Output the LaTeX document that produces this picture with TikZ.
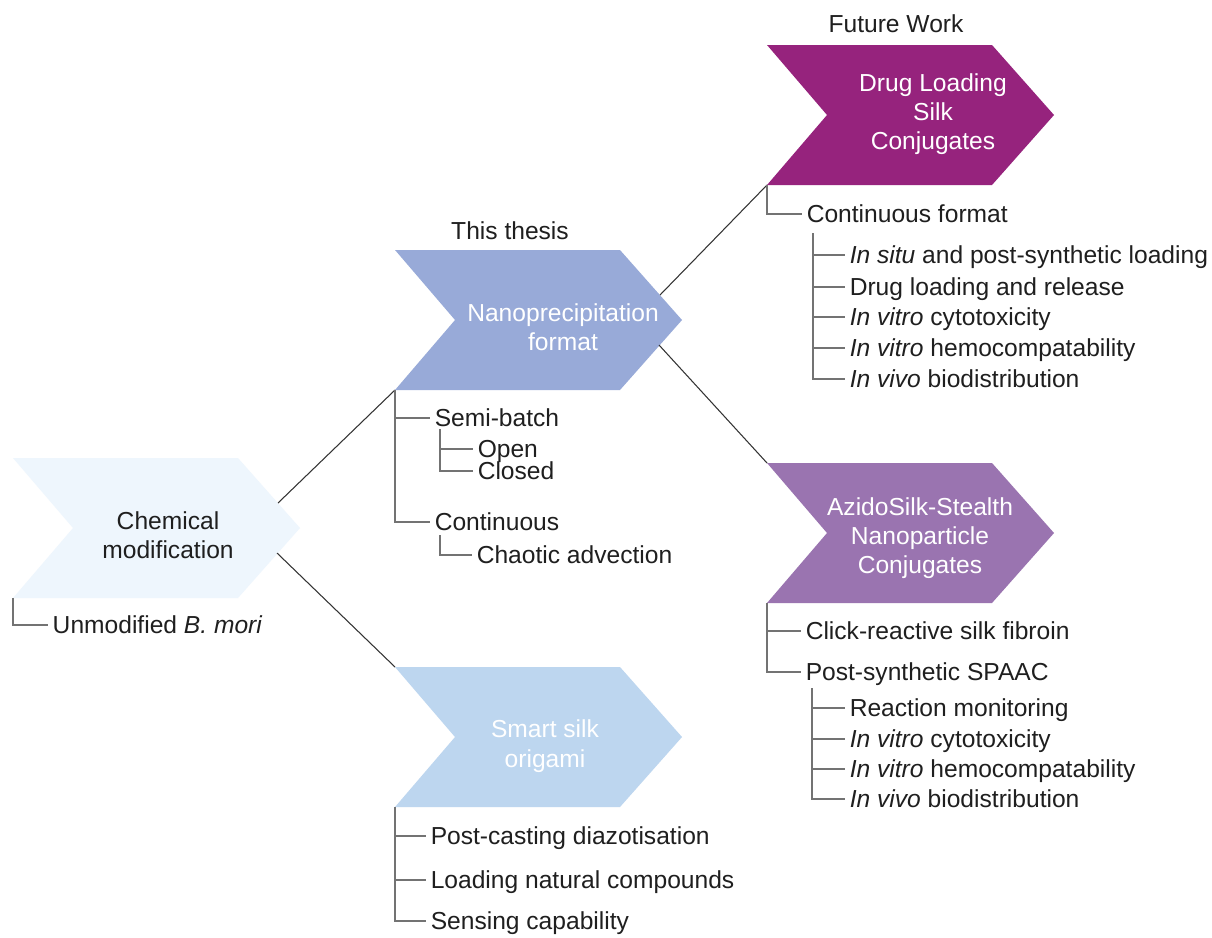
\documentclass[tikz,border=0pt]{standalone}
\usepackage{fontspec}
\setmainfont{Liberation Sans}
\definecolor{chemfill}{HTML}{EEF6FD}
\definecolor{nanofill}{HTML}{98AAD8}
\definecolor{smartfill}{HTML}{BDD6EF}
\definecolor{drugfill}{HTML}{96237D}
\definecolor{azidofill}{HTML}{9A74B0}

\begin{document}
\begin{tikzpicture}[
    x=0.02cm, y=-0.02cm,
    every node/.style={font=\fontsize{14}{16.7}\selectfont, text=black!88},
    item/.style={anchor=west, inner sep=2.5pt, text height=12.5pt, text depth=2.5pt},
    title/.style={align=center, text=white},
    tree/.style={draw=black!55, line width=0.7pt},
    link/.style={draw=black!80, line width=0.6pt},
    chevron/.pic={
      \fill[pic actions] (0,0) -- (225,0) -- (287,70) -- (225,140)
                         -- (0,140) -- (60,70) -- cycle;
      \coordinate (-tl) at (0,0);
      \coordinate (-bl) at (0,140);
      \coordinate (-ur) at (265,45);
      \coordinate (-lr) at (264,95);
    },
  ]

  \fill[white] (0,0) rectangle (1212,937);
  \useasboundingbox (0,0) rectangle (1212,937);

  \pic[fill=chemfill]  (chem)  at (13,458)  {chevron};
  \pic[fill=nanofill]  (nano)  at (395,250) {chevron};
  \pic[fill=smartfill] (smart) at (395,667) {chevron};
  \pic[fill=drugfill]  (drug)  at (767,45)  {chevron};
  \pic[fill=azidofill] (azido) at (767,463) {chevron};

  \draw[link] (chem-ur) -- (nano-bl);
  \draw[link] (chem-lr) -- (smart-tl);
  \draw[link] (nano-ur) -- (drug-bl);
  \draw[link] (nano-lr) -- (azido-tl);

  % headings
  \node (future) at (896,24)  {Future Work};
  \node (thesis) at (510,231) {This thesis};

  % chevron labels
  \node[align=center] (chemlbl) at (168,535) {Chemical\\modification};
  \node[title] (nanolbl)  at (563,327) {Nanoprecipitation\\format};
  \node[title] (smartlbl) at (545,746) {Smart silk\\origami};
  \node[title] (druglbl)  at (933,114) {Drug Loading\\Silk\\Conjugates};
  \node[title] (azidolbl) at (920,538) {AzidoSilk-Stealth\\Nanoparticle\\Conjugates};

  % chemical modification
  \node[item] (unmod) at (48,625) {Unmodified \textit{B.~mori}};
  \draw[tree] (chem-bl) |- (unmod.west);

  % nanoprecipitation
  \node[item] (semi)    at (430,418) {Semi-batch};
  \node[item] (open)    at (473,449) {Open};
  \node[item] (closed)  at (473,471) {Closed};
  \node[item] (cont)    at (430,522) {Continuous};
  \node[item] (chaotic) at (472,555) {Chaotic advection};
  \draw[tree] (nano-bl) |- (semi.west);
  \draw[tree] (nano-bl) |- (cont.west);
  \draw[tree] ([xshift=.2cm, yshift=-.22cm]semi.west) |- (open.west);
  \draw[tree] ([xshift=.2cm, yshift=-.22cm]semi.west) |- (closed.west);
  \draw[tree] ([xshift=.2cm, yshift=-.26cm]cont.west) |- (chaotic.west);

  % smart silk origami
  \node[item] (casting) at (426,836) {Post-casting diazotisation};
  \node[item] (natural) at (426,880) {Loading natural compounds};
  \node[item] (sensing) at (426,921) {Sensing capability};
  \draw[tree] (smart-bl) |- (casting.west);
  \draw[tree] (smart-bl) |- (natural.west);
  \draw[tree] (smart-bl) |- (sensing.west);

  % drug loading
  \node[item] (contf)   at (802,214) {Continuous format};
  \node[item] (insitu)  at (845,255) {\textit{In situ} and post-synthetic loading};
  \node[item] (release) at (845,287) {Drug loading and release};
  \node[item] (dcyto)   at (845,317) {\textit{In vitro} cytotoxicity};
  \node[item] (dhemo)   at (845,348) {\textit{In vitro} hemocompatability};
  \node[item] (dvivo)   at (845,379) {\textit{In vivo} biodistribution};
  \draw[tree] (drug-bl) |- (contf.west);
  \foreach \n in {insitu, release, dcyto, dhemo, dvivo}
    \draw[tree] ([xshift=.22cm, yshift=-.38cm]contf.west) |- (\n.west);

  % azidosilk
  \node[item] (click)   at (801,631) {Click-reactive silk fibroin};
  \node[item] (spaac)   at (801,672) {Post-synthetic SPAAC};
  \node[item] (monitor) at (845,708) {Reaction monitoring};
  \node[item] (acyto)   at (845,739) {\textit{In vitro} cytotoxicity};
  \node[item] (ahemo)   at (845,769) {\textit{In vitro} hemocompatability};
  \node[item] (avivo)   at (845,799) {\textit{In vivo} biodistribution};
  \draw[tree] (azido-bl) |- (click.west);
  \draw[tree] (azido-bl) |- (spaac.west);
  \foreach \n in {monitor, acyto, ahemo, avivo}
    \draw[tree] ([xshift=.22cm, yshift=-.32cm]spaac.west) |- (\n.west);

\end{tikzpicture}
\end{document}
